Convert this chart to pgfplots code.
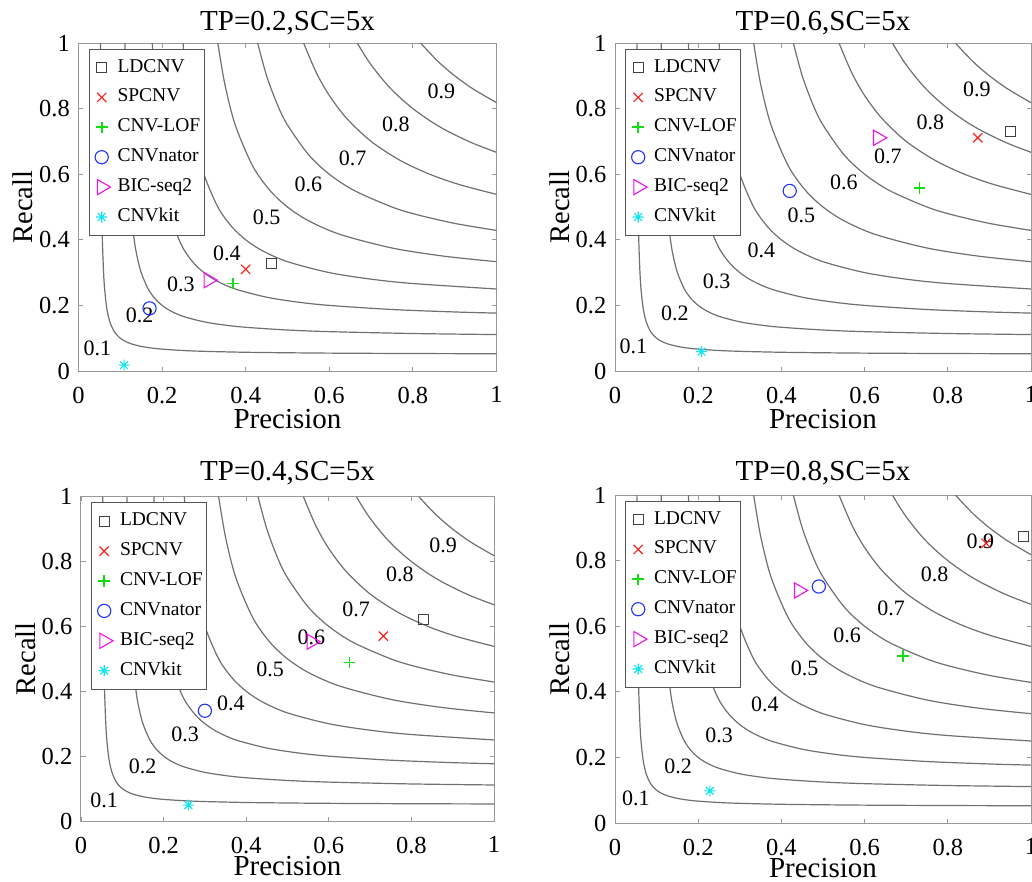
\documentclass[border=0pt]{standalone}
\usepackage{fontspec}
\setmainfont{Liberation Serif}
\usepackage{pgfplots}
\pgfplotsset{compat=1.18}

\definecolor{axgray}{HTML}{999999}
\definecolor{isogray}{HTML}{707070}
\definecolor{leggray}{HTML}{555555}
\definecolor{ldc}{HTML}{404040}
\definecolor{spc}{HTML}{FF2020}
\definecolor{lofc}{HTML}{11DD11}
\definecolor{natc}{HTML}{2233FF}
\definecolor{bicc}{HTML}{EE11EE}
\definecolor{kitc}{HTML}{11E5F0}

\pgfdeclareplotmark{mstar}{%
 \pgfpathmoveto{\pgfqpoint{-\pgfplotmarksize}{0pt}}\pgfpathlineto{\pgfqpoint{\pgfplotmarksize}{0pt}}%
 \pgfpathmoveto{\pgfqpoint{0pt}{-\pgfplotmarksize}}\pgfpathlineto{\pgfqpoint{0pt}{\pgfplotmarksize}}%
 \pgfpathmoveto{\pgfqpoint{-.7071\pgfplotmarksize}{-.7071\pgfplotmarksize}}\pgfpathlineto{\pgfqpoint{.7071\pgfplotmarksize}{.7071\pgfplotmarksize}}%
 \pgfpathmoveto{\pgfqpoint{-.7071\pgfplotmarksize}{.7071\pgfplotmarksize}}\pgfpathlineto{\pgfqpoint{.7071\pgfplotmarksize}{-.7071\pgfplotmarksize}}%
 \pgfusepathqstroke}

\tikzset{flab/.style={font=\fontsize{22}{24}\selectfont, inner sep=0pt, anchor=center}}

\pgfplotsset{
 pt/.style={only marks, legend image code/.code={\draw[##1] plot coordinates {(0pt,0pt)}; \path[draw=none,fill=none] (-8.7pt,-6pt) rectangle (6pt,6pt);}},
 ld/.style={pt, mark=square, mark size=5pt, color=ldc, mark options={solid,line width=1.1pt}},
 sp/.style={pt, mark=x, mark size=6.5pt, color=spc, mark options={solid,line width=1.2pt}},
 lof/.style={pt, mark=+, mark size=5.8pt, color=lofc, mark options={solid,line width=1.7pt,draw=lofc}},
 nat/.style={pt, mark=o, mark size=6.6pt, color=natc, mark options={solid,line width=1.1pt}},
 bic/.style={pt, mark=triangle, mark size=8.8pt, color=bicc, mark options={solid,rotate=-90,line width=1.1pt}},
 kit/.style={pt, mark=mstar, mark size=5.5pt, color=kitc, mark options={solid,line width=1.1pt}},
 iso/.style={isogray, line width=1.2pt, smooth, forget plot, no markers},
 prpanel/.style={
  scale only axis,
  xmin=0,xmax=1,ymin=0,ymax=1,
  xtick={0,0.2,0.4,0.6,0.8,1}, xticklabels={0,0.2,0.4,0.6,0.8,1},
  ytick={0,0.2,0.4,0.6,0.8,1}, yticklabels={0,0.2,0.4,0.6,0.8,1},
  tick align=inside, major tick length=4.5pt,
  axis line style={axgray, line width=1pt},
  every tick/.style={axgray, line width=0.9pt},
  tick label style={font=\fontsize{24.5}{26}\selectfont, inner sep=0pt},
  xticklabel style={yshift=-15.5pt},
  yticklabel style={xshift=-8.5pt},
  title style={font=\fontsize{29}{31}\selectfont, at={(0.5,1)}, anchor=base, yshift=7pt},
  xlabel style={font=\fontsize{29}{31}\selectfont, at={(axis description cs:0.5,0)}, anchor=base, yshift=-57pt},
  ylabel style={font=\fontsize{28.5}{30}\selectfont, at={(axis description cs:0,0.5)}, anchor=base, yshift=45.5pt},
  xlabel={Precision}, ylabel={Recall},
  legend cell align=left,
  legend style={at={(axis description cs:0,1)}, anchor=north west, xshift=10pt, yshift=-5.5pt,
    draw=leggray, line width=1pt, fill=white, inner xsep=4pt, inner ysep=10pt,
    row sep=12.9pt, column sep=7pt, font=\fontsize{19.5}{21}\selectfont,
    nodes={inner sep=0pt, text height=13pt, text depth=4pt}},
 },
}

\newcommand{\isocurves}{%
 \addplot[iso] coordinates {(0.0526,1) (0.0533,0.8) (0.0545,0.6) (0.0556,0.5) (0.0571,0.4) (0.06,0.3) (0.0625,0.25) (0.0667,0.2) (0.07,0.175) (0.075,0.15) (0.0833,0.125) (0.0917,0.11) (0.1,0.1) (0.11,0.0917) (0.125,0.0833) (0.15,0.075) (0.175,0.07) (0.2,0.0667) (0.25,0.0625) (0.3,0.06) (0.4,0.0571) (0.5,0.0556) (0.6,0.0545) (0.8,0.0533) (1,0.0526)};
 \addplot[iso] coordinates {(0.1111,1) (0.1143,0.8) (0.12,0.6) (0.125,0.5) (0.1333,0.4) (0.14,0.35) (0.15,0.3) (0.1667,0.25) (0.1833,0.22) (0.2,0.2) (0.22,0.1833) (0.25,0.1667) (0.3,0.15) (0.35,0.14) (0.4,0.1333) (0.5,0.125) (0.6,0.12) (0.8,0.1143) (1,0.1111)};
 \addplot[iso] coordinates {(0.1765,1) (0.18,0.9) (0.1875,0.75) (0.2,0.6) (0.21,0.525) (0.225,0.45) (0.25,0.375) (0.275,0.33) (0.3,0.3) (0.33,0.275) (0.375,0.25) (0.45,0.225) (0.525,0.21) (0.6,0.2) (0.75,0.1875) (0.9,0.18) (1,0.1765)};
 \addplot[iso] coordinates {(0.25,1) (0.2667,0.8) (0.28,0.7) (0.3,0.6) (0.3333,0.5) (0.3667,0.44) (0.4,0.4) (0.44,0.3667) (0.5,0.3333) (0.6,0.3) (0.7,0.28) (0.8,0.2667) (1,0.25)};
 \addplot[iso] coordinates {(0.3333,1) (0.35,0.875) (0.375,0.75) (0.4167,0.625) (0.4583,0.55) (0.5,0.5) (0.55,0.4583) (0.625,0.4167) (0.75,0.375) (0.875,0.35) (1,0.3333)};
 \addplot[iso] coordinates {(0.4286,1) (0.45,0.9) (0.4765,0.81) (0.5,0.75) (0.55,0.66) (0.6,0.6) (0.66,0.55) (0.75,0.5) (0.81,0.4765) (0.9,0.45) (1,0.4286)};
 \addplot[iso] coordinates {(0.5385,1) (0.5688,0.91) (0.6,0.84) (0.6417,0.77) (0.7,0.7) (0.77,0.6417) (0.84,0.6) (0.91,0.5688) (1,0.5385)};
 \addplot[iso] coordinates {(0.6667,1) (0.6963,0.94) (0.7333,0.88) (0.7636,0.84) (0.8,0.8) (0.84,0.7636) (0.88,0.7333) (0.94,0.6963) (1,0.6667)};
 \addplot[iso] coordinates {(0.8182,1) (0.8591,0.945) (0.9,0.9) (0.945,0.8591) (1,0.8182)};
}

\begin{document}
\begin{tikzpicture}
% ---------- TP=0.2 ----------
\begin{axis}[prpanel, at={(78.5pt,-43pt)}, anchor=north west, width=418pt, height=328pt, title={TP=0.2,SC=5x}]
\isocurves
\node[flab] at (axis cs:0.868,0.854) {0.9};
\node[flab] at (axis cs:0.759,0.752) {0.8};
\node[flab] at (axis cs:0.656,0.648) {0.7};
\node[flab] at (axis cs:0.55,0.569) {0.6};
\node[flab] at (axis cs:0.45,0.47) {0.5};
\node[flab] at (axis cs:0.355,0.358) {0.4};
\node[flab] at (axis cs:0.245,0.264) {0.3};
\node[flab] at (axis cs:0.146,0.171) {0.2};
\node[flab] at (axis cs:0.045,0.069) {0.1};
\addplot[ld] coordinates {(0.462,0.328)};
\addplot[sp] coordinates {(0.40,0.31)};
\addplot[lof] coordinates {(0.369,0.267)};
\addplot[nat] coordinates {(0.17,0.191)};
\addplot[bic] coordinates {(0.311,0.277)};
\addplot[kit] coordinates {(0.109,0.018)};
\legend{LDCNV,SPCNV,CNV-LOF,CNVnator,BIC-seq2,CNVkit}
\end{axis}
% ---------- TP=0.6 ----------
\begin{axis}[prpanel, at={(615pt,-43pt)}, anchor=north west, width=416pt, height=328pt, title={TP=0.6,SC=5x}]
\isocurves
\node[flab] at (axis cs:0.87,0.858) {0.9};
\node[flab] at (axis cs:0.758,0.759) {0.8};
\node[flab] at (axis cs:0.656,0.653) {0.7};
\node[flab] at (axis cs:0.55,0.574) {0.6};
\node[flab] at (axis cs:0.448,0.475) {0.5};
\node[flab] at (axis cs:0.352,0.368) {0.4};
\node[flab] at (axis cs:0.244,0.272) {0.3};
\node[flab] at (axis cs:0.144,0.176) {0.2};
\node[flab] at (axis cs:0.044,0.074) {0.1};
\addplot[ld] coordinates {(0.95,0.731)};
\addplot[sp] coordinates {(0.872,0.711)};
\addplot[lof] coordinates {(0.732,0.558)};
\addplot[nat] coordinates {(0.42,0.549)};
\addplot[bic] coordinates {(0.632,0.711)};
\addplot[kit] coordinates {(0.208,0.059)};
\legend{LDCNV,SPCNV,CNV-LOF,CNVnator,BIC-seq2,CNVkit}
\end{axis}
% ---------- TP=0.4 ----------
\begin{axis}[prpanel, at={(81pt,-496.7pt)}, anchor=north west, width=413pt, height=324.3pt, title={TP=0.4,SC=5x}, title style={yshift=3pt}, xlabel style={yshift=3pt}]
\isocurves
\node[flab] at (axis cs:0.877,0.851) {0.9};
\node[flab] at (axis cs:0.772,0.76) {0.8};
\node[flab] at (axis cs:0.666,0.653) {0.7};
\node[flab] at (axis cs:0.558,0.566) {0.6};
\node[flab] at (axis cs:0.458,0.469) {0.5};
\node[flab] at (axis cs:0.363,0.363) {0.4};
\node[flab] at (axis cs:0.252,0.267) {0.3};
\node[flab] at (axis cs:0.149,0.168) {0.2};
\node[flab] at (axis cs:0.056,0.063) {0.1};
\addplot[ld] coordinates {(0.83,0.622)};
\addplot[sp] coordinates {(0.732,0.570)};
\addplot[lof] coordinates {(0.65,0.489)};
\addplot[nat] coordinates {(0.30,0.34)};
\addplot[bic] coordinates {(0.558,0.553)};
\addplot[kit] coordinates {(0.26,0.049)};
\legend{LDCNV,SPCNV,CNV-LOF,CNVnator,BIC-seq2,CNVkit}
\end{axis}
% ---------- TP=0.8 ----------
\begin{axis}[prpanel, at={(615pt,-495pt)}, anchor=north west, width=416pt, height=328pt, title={TP=0.8,SC=5x}, title style={yshift=1.5pt}, xlabel style={yshift=3pt}]
\isocurves
\node[flab] at (axis cs:0.878,0.858) {0.9};
\node[flab] at (axis cs:0.768,0.759) {0.8};
\node[flab] at (axis cs:0.664,0.655) {0.7};
\node[flab] at (axis cs:0.558,0.572) {0.6};
\node[flab] at (axis cs:0.456,0.472) {0.5};
\node[flab] at (axis cs:0.36,0.362) {0.4};
\node[flab] at (axis cs:0.25,0.267) {0.3};
\node[flab] at (axis cs:0.152,0.173) {0.2};
\node[flab] at (axis cs:0.05,0.074) {0.1};
\addplot[ld] coordinates {(0.982,0.874)};
\addplot[sp] coordinates {(0.892,0.853)};
\addplot[lof] coordinates {(0.692,0.51)};
\addplot[nat] coordinates {(0.49,0.721)};
\addplot[bic] coordinates {(0.442,0.709)};
\addplot[kit] coordinates {(0.228,0.098)};
\legend{LDCNV,SPCNV,CNV-LOF,CNVnator,BIC-seq2,CNVkit}
\end{axis}
\pgfresetboundingbox
\path[use as bounding box] (0pt,0pt) rectangle (1032pt,-881pt);
\end{tikzpicture}
\end{document}
